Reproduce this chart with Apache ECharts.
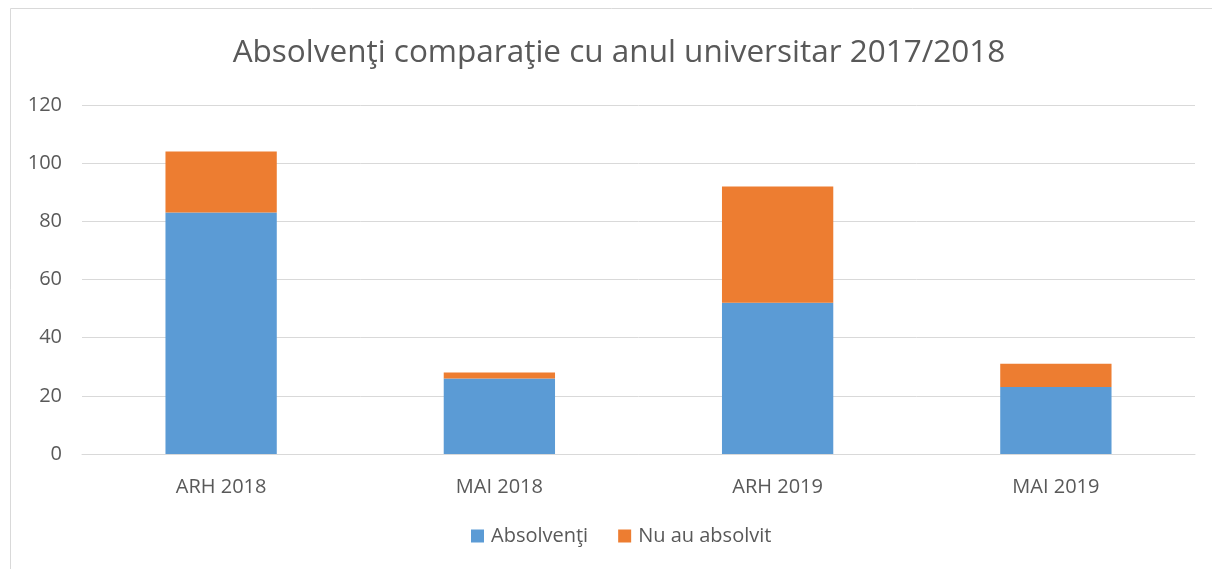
<!DOCTYPE html>
<html>
<head>
<meta charset="utf-8">
<script src="https://cdn.jsdelivr.net/npm/echarts@6/dist/echarts.min.js"></script>
<style>
  html, body { margin: 0; padding: 0; background: #fff; }
  #chart { width: 1212px; height: 569px; }
</style>
</head>
<body>
<div id="chart"></div>
<script>
const categories = ['ARH 2018', 'MAI 2018', 'ARH 2019', 'MAI 2019']
const absolventi = [83, 26, 52, 23]
const nuAuAbsolvit = [21, 2, 40, 8]
const yTicks = { min: 0, max: 120, interval: 20 }

const textColor = '#595959'
const font = 'Open Sans'

const chart = echarts.init(document.getElementById('chart'))

chart.setOption({
  animation: false,
  textStyle: { fontFamily: font },
  graphic: [{
    type: 'rect',
    shape: { x: 10.5, y: 8.5, width: 1220, height: 600 },
    style: { fill: 'none', stroke: '#d9d9d9', lineWidth: 1 }
  }],
  title: {
    text: 'Absolvenţi comparaţie cu anul universitar 2017/2018',
    left: 614,
    textAlign: 'center',
    top: 32,
    textStyle: { fontFamily: font, fontSize: 31.5, fontWeight: 'normal', color: textColor }
  },
  legend: {
    data: ['Absolvenţi', 'Nu au absolvit'],
    bottom: 18,
    left: 466,
    itemWidth: 13,
    itemHeight: 13,
    itemGap: 30,
    icon: 'rect',
    textStyle: { fontFamily: font, fontSize: 20, color: textColor, padding: [0, 0, 0, 2] }
  },
  grid: { left: 82, right: 17, top: 105, bottom: 115 },
  xAxis: {
    type: 'category',
    data: categories,
    axisLine: { lineStyle: { color: '#d9d9d9' } },
    axisTick: { show: false },
    axisLabel: { color: textColor, fontSize: 20, margin: 23 }
  },
  yAxis: {
    type: 'value',
    min: yTicks.min,
    max: yTicks.max,
    interval: yTicks.interval,
    axisLine: { show: false },
    axisTick: { show: false },
    axisLabel: { color: textColor, fontSize: 20, margin: 20 },
    splitLine: { lineStyle: { color: '#d9d9d9' } }
  },
  series: [
    {
      name: 'Absolvenţi',
      type: 'bar',
      stack: 'total',
      barWidth: '40%',
      itemStyle: { color: '#5b9bd5' },
      data: absolventi
    },
    {
      name: 'Nu au absolvit',
      type: 'bar',
      stack: 'total',
      itemStyle: { color: '#ed7d31' },
      data: nuAuAbsolvit
    }
  ]
})
</script>
</body>
</html>
